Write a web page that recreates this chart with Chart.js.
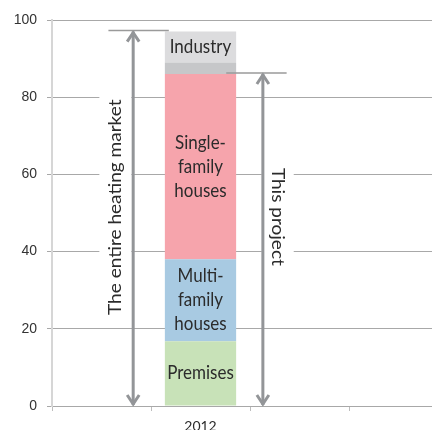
<!DOCTYPE html>
<html>
<head>
<meta charset="utf-8">
<script src="https://cdn.jsdelivr.net/npm/chart.js@4"></script>
<style>
  body { margin: 0; overflow: hidden; background: #fff; }
  canvas { display: block; }
</style>
</head>
<body>
<canvas id="heatChart" width="460" height="430"></canvas>
<script>
// categories on the x axis (only one bar is used)
const categories = ['', '2012', '', ''];

// stacked segments, bottom to top
const segmentNames = ['Premises', 'Multi-family houses', 'Single-family houses', 'Other', 'Industry'];
const segmentValues = [16.8, 21.2, 48, 3, 8];
const segmentColors = ['#c8e2b8', '#a8cae2', '#f6a4ac', '#c6c7c9', '#dcdcde'];
const segmentLabels = [['Premises'], ['Multi-', 'family', 'houses'], ['Single-', 'family', 'houses'], [], ['Industry']];

const yTicks = [0, 20, 40, 60, 80, 100];

// arrow notes: how many segments they span, where they sit (category units), text position (value)
const noteTexts = ['The entire heating market', 'This project'];
const noteSegments = [5, 3];
const noteArrowX = [0.32, 1.63];
const noteCapFrom = [0.07, 1.26];
const noteCapTo = [0.68, 1.87];
const noteTextX = [0.14, 1.78];
const noteTextAt = [51.5, 49];
const noteRotation = [-Math.PI / 2, Math.PI / 2];

const arrowColor = '#939598';
const textColor = '#2b2b2b';
const textStretch = 1.12; // text in the original looks a bit taller than wide

function drawArrow(ctx, x, yTop, yBottom) {
    ctx.save();
    ctx.strokeStyle = arrowColor;
    ctx.lineWidth = 3;
    ctx.beginPath();
    ctx.moveTo(x, yTop + 1);
    ctx.lineTo(x, yBottom - 1);
    ctx.stroke();
    ctx.beginPath();
    ctx.moveTo(x - 6, yTop + 11);
    ctx.lineTo(x, yTop + 2);
    ctx.lineTo(x + 6, yTop + 11);
    ctx.stroke();
    ctx.beginPath();
    ctx.moveTo(x - 6, yBottom - 11);
    ctx.lineTo(x, yBottom - 2);
    ctx.lineTo(x + 6, yBottom - 11);
    ctx.stroke();
    ctx.restore();
}

const notesPlugin = {
    id: 'notes',
    afterDatasetsDraw(chart) {
        const ctx = chart.ctx;
        const x = chart.scales.x;
        const y = chart.scales.y;

        // labels inside the bar segments
        segmentLabels.forEach((lines, i) => {
            const bar = chart.getDatasetMeta(i).data[1];
            if (!bar || !lines.length) return;
            const cy = (bar.y + bar.base) / 2;
            const lh = 24;
            lines.forEach((line, k) => {
                ctx.save();
                ctx.font = '17px Lato';
                ctx.fillStyle = textColor;
                ctx.textAlign = 'center';
                ctx.textBaseline = 'middle';
                ctx.translate(bar.x, cy + (k - (lines.length - 1) / 2) * lh);
                ctx.scale(1, textStretch);
                ctx.fillText(line, 0, 0);
                ctx.restore();
            });
        });

        // arrows with text
        noteTexts.forEach((text, i) => {
            const top = segmentValues.slice(0, noteSegments[i]).reduce((a, b) => a + b, 0);
            const yTop = y.getPixelForValue(top) - 1;
            const yBottom = y.getPixelForValue(0);

            // text on white box
            const tx = x.getPixelForValue(noteTextX[i]);
            const ty = y.getPixelForValue(noteTextAt[i]);
            ctx.save();
            ctx.font = '17px Lato';
            const w = ctx.measureText(text).width;
            ctx.translate(tx, ty);
            ctx.scale(1, textStretch);
            ctx.rotate(noteRotation[i]);
            ctx.fillStyle = '#ffffff';
            ctx.fillRect(-w / 2 - 6, -16, w + 12, 32);
            ctx.fillStyle = textColor;
            ctx.textAlign = 'center';
            ctx.textBaseline = 'middle';
            ctx.fillText(text, 0, 0);
            ctx.restore();

            // cap line
            ctx.save();
            ctx.strokeStyle = '#9a9a9a';
            ctx.lineWidth = 1.5;
            ctx.beginPath();
            ctx.moveTo(x.getPixelForValue(noteCapFrom[i]), yTop);
            ctx.lineTo(x.getPixelForValue(noteCapTo[i]), yTop);
            ctx.stroke();
            ctx.restore();

            drawArrow(ctx, x.getPixelForValue(noteArrowX[i]), yTop, yBottom);
        });
    }
};

const ctx = document.getElementById('heatChart').getContext('2d');
new Chart(ctx, {
    type: 'bar',
    data: {
        labels: categories,
        datasets: segmentNames.map((name, i) => ({
            label: name,
            data: categories.map(c => c === '2012' ? segmentValues[i] : null),
            backgroundColor: segmentColors[i],
            borderWidth: 0,
            categoryPercentage: 1,
            barPercentage: 0.72
        }))
    },
    options: {
        responsive: false,
        devicePixelRatio: 1,
        animation: false,
        layout: { padding: { top: 20, left: 0, right: 12, bottom: 0 } },
        plugins: {
            legend: { display: false },
            tooltip: { enabled: false }
        },
        scales: {
            x: {
                stacked: true,
                grid: { offset: true, drawOnChartArea: false, tickLength: 5, color: '#bdbdbd' },
                border: { color: '#a8a8a8', width: 1 },
                ticks: { font: { family: 'Lato', size: 14 }, color: textColor, padding: 7, maxRotation: 0 },
                afterFit: scale => { scale.height = 24; }
            },
            y: {
                stacked: true,
                min: 0,
                max: 100,
                afterBuildTicks: scale => { scale.ticks = yTicks.map(v => ({ value: v })); },
                grid: { color: '#a8a8a8', tickLength: 5 },
                border: { color: '#d6d6d6', width: 2 },
                ticks: { font: { family: 'Liberation Sans', size: 14 }, color: '#333', padding: 10 },
                afterFit: scale => { scale.width = 52; }
            }
        }
    },
    plugins: [notesPlugin]
});
</script>
</body>
</html>
